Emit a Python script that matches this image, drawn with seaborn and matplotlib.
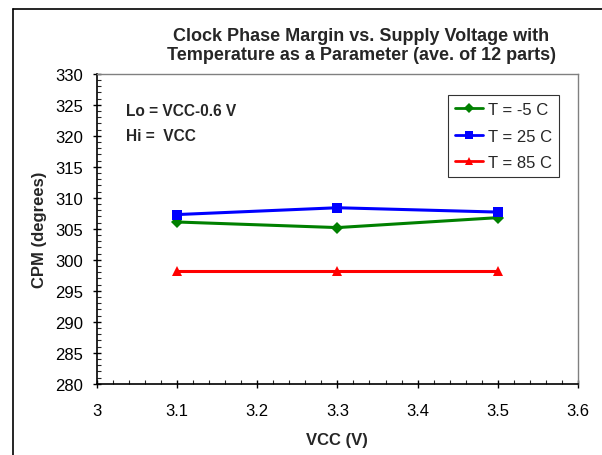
import matplotlib
matplotlib.use("Agg")
import matplotlib.pyplot as plt
import seaborn as sns
import pandas as pd
from matplotlib.ticker import MultipleLocator
from matplotlib.lines import Line2D

# Clock phase margin vs supply voltage, three temperatures
vcc = [3.1, 3.3, 3.5]
cpm_m5 = [306.1, 305.2, 306.8]
cpm_25 = [307.3, 308.4, 307.7]
cpm_85 = [298.2, 298.2, 298.2]
series_names = ["T = -5 C", "T = 25 C", "T = 85 C"]
colors = ["green", "blue", "red"]
markers = ["D", "s", "^"]

rows = []
for name, vals in zip(series_names, [cpm_m5, cpm_25, cpm_85]):
    for v, c in zip(vcc, vals):
        rows.append({"VCC": v, "CPM": c, "T": name})
df = pd.DataFrame(rows)

sns.set_style("white")
plt.rcParams["font.family"] = ["Liberation Sans", "DejaVu Sans"]

fig = plt.figure(figsize=(6.02, 4.56), dpi=100)
ax = fig.add_axes([0.161, 0.156, 0.799, 0.680])

sns.lineplot(data=df, x="VCC", y="CPM", hue="T", style="T",
             palette=colors, markers=markers, dashes=False,
             markersize=6.5, linewidth=2.2, markeredgewidth=0,
             legend=False, ax=ax)

ax.set_xlim(3, 3.6)
ax.set_ylim(280, 330)
ax.xaxis.set_major_locator(MultipleLocator(0.1))
ax.xaxis.set_minor_locator(MultipleLocator(0.02))
ax.yaxis.set_major_locator(MultipleLocator(5))
ax.yaxis.set_minor_locator(MultipleLocator(1))
ax.set_xticks([3.0, 3.1, 3.2, 3.3, 3.4, 3.5, 3.6])
ax.set_xticklabels(["3", "3.1", "3.2", "3.3", "3.4", "3.5", "3.6"])
ax.tick_params(axis="both", which="major", direction="inout", length=6,
               width=1, labelsize=12, colors="black")
ax.tick_params(axis="x", which="major", pad=11)
ax.tick_params(axis="y", which="major", pad=7)
ax.tick_params(axis="both", which="minor", direction="in", length=3, width=0.8)
ax.tick_params(top=False, right=False, which="both")
ax.tick_params(bottom=True, left=True, which="both")

for s in ["left", "bottom"]:
    ax.spines[s].set_color("black")
    ax.spines[s].set_linewidth(1.2)
for s in ["top", "right"]:
    ax.spines[s].set_color("#808080")
    ax.spines[s].set_linewidth(1.0)

ax.set_xlabel("VCC (V)", fontsize=12, fontweight="bold", labelpad=10)
ax.set_ylabel("CPM (degrees)", fontsize=12, fontweight="bold", labelpad=6)

fig.text(0.600, 0.899, "Clock Phase Margin vs. Supply Voltage with\nTemperature as a Parameter (ave. of 12 parts)",
         ha="center", va="center", fontsize=13, fontweight="bold", linespacing=1.2)

ax.text(0.06, 0.88, "Lo = VCC-0.6 V", transform=ax.transAxes, fontsize=11.2,
        fontweight="bold", va="center")
ax.text(0.06, 0.80, "Hi =  VCC", transform=ax.transAxes, fontsize=11.2,
        fontweight="bold", va="center")

handles = [Line2D([], [], color=c, marker=m, markersize=5.5, linewidth=2,
                  markeredgewidth=0) for c, m in zip(colors, markers)]
leg = ax.legend(handles, series_names, loc="upper right",
                bbox_to_anchor=(0.960, 0.931), fontsize=12, frameon=True,
                fancybox=False, edgecolor="black", handlelength=1.7,
                handletextpad=0.3, borderpad=0.4, labelspacing=0.7,
                borderaxespad=0)
leg.get_frame().set_linewidth(0.8)

# chart area border (left and top visible)
fig.add_artist(Line2D([0.021, 0.021], [0, 0.978], transform=fig.transFigure,
                      color="black", linewidth=1.2))
fig.add_artist(Line2D([0.021, 1.0], [0.978, 0.978], transform=fig.transFigure,
                      color="black", linewidth=1.2))

fig.savefig("out.png", dpi=100)
